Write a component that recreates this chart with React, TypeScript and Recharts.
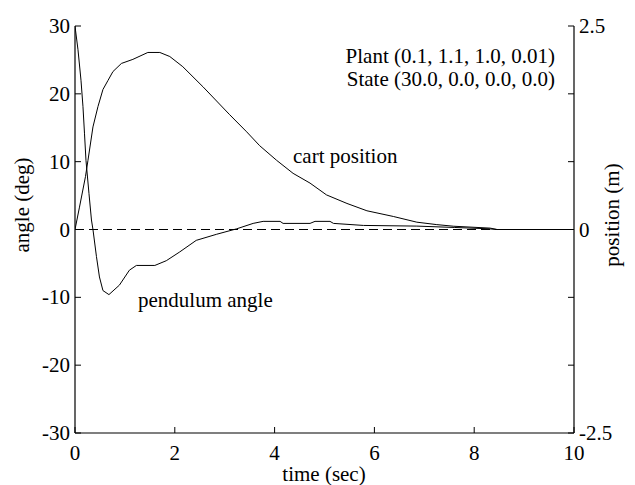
import React from "react";
import {
  LineChart,
  Line,
  XAxis,
  YAxis,
  ReferenceLine,
} from "recharts";

const FONT = "Liberation Serif, DejaVu Serif, serif";

// time samples (sec) and angles (deg) for the pendulum
const pendTime = [
  0, 0.01, 0.06, 0.12, 0.16, 0.19, 0.22, 0.28, 0.33, 0.36, 0.43, 0.49, 0.56,
  0.68, 0.89, 1.09, 1.23, 1.6, 1.83, 2.1, 2.43, 2.84, 3.24, 3.57, 3.77, 4.11,
  4.17, 4.71, 4.81, 5.11, 5.18, 5.78, 6.85, 7.6, 8.3, 8.45, 10,
];
const pendAngle = [
  30, 29.4, 26.5, 22.0, 18.1, 14.2, 10.2, 5.3, 1.4, 0, -4.0, -7.0, -9.0, -9.6,
  -8.2, -6.0, -5.3, -5.3, -4.6, -3.3, -1.6, -0.7, 0.1, 0.9, 1.2, 1.2, 0.9, 0.9,
  1.2, 1.2, 0.9, 0.6, 0.5, 0.3, 0.1, 0, 0,
];

// time samples (sec) and cart position (m)
const cartTime = [
  0, 0.09, 0.21, 0.26, 0.36, 0.46, 0.56, 0.66, 0.76, 0.93, 1.16, 1.46, 1.7, 1.9,
  2.16, 2.57, 3.1, 3.44, 3.7, 4.04, 4.37, 4.71, 5.04, 5.45, 5.85, 6.38, 6.85,
  7.25, 7.59, 8.32, 8.46, 10,
];
const cartPos = [
  0, 0.275, 0.65, 0.85, 1.26, 1.51, 1.72, 1.83, 1.94, 2.04, 2.09, 2.175, 2.175,
  2.125, 2.0, 1.75, 1.41, 1.2, 1.03, 0.85, 0.69, 0.57, 0.425, 0.32, 0.23, 0.16,
  0.09, 0.06, 0.04, 0.017, 0, 0,
];

const xTicks = [0, 2, 4, 6, 8, 10];
const angleTicks = [-30, -20, -10, 0, 10, 20, 30];
const posTicks = [-2.5, -5 / 3, -5 / 6, 0, 5 / 6, 5 / 3, 2.5];
const posLabels = [-2.5, 0, 2.5];

const pendData = pendTime.map((t, i) => ({ t, angle: pendAngle[i] }));
const cartData = cartTime.map((t, i) => ({ t, pos: cartPos[i] }));

// shared text attributes
const txt = { fontFamily: FONT, fontSize: 21, fill: "#000" };

function LeftTick({ x, y, payload }: any) {
  return (
    <g>
      <line x1={x} x2={x + 6} y1={y} y2={y} stroke="#000" />
      <text x={x - 5} y={y} textAnchor="end" dominantBaseline="central" {...txt}>
        {payload.value}
      </text>
    </g>
  );
}

function RightTick({ x, y, payload }: any) {
  const show = posLabels.some((v) => Math.abs(v - payload.value) < 1e-6);
  return (
    <g>
      <line x1={x - 6} x2={x} y1={y} y2={y} stroke="#000" />
      {show && (
        <text x={x + 5} y={y} textAnchor="start" dominantBaseline="central" {...txt}>
          {String(payload.value)}
        </text>
      )}
    </g>
  );
}

function BottomTick({ x, y, payload }: any) {
  return (
    <g>
      <line x1={x} x2={x} y1={y} y2={y - 6} stroke="#000" />
      <text x={x} y={y + 20} textAnchor="middle" dominantBaseline="central" {...txt}>
        {payload.value}
      </text>
    </g>
  );
}

function TopTick({ x, y }: any) {
  return <line x1={x} x2={x} y1={y} y2={y + 6} stroke="#000" />;
}

export default function App() {
  return (
    <div style={{ position: "absolute", left: 0, top: 0, width: 635, height: 485, background: "#fff" }}>
      <LineChart width={635} height={485} margin={{ top: 26, right: 0, bottom: 0, left: 0 }}>
        <XAxis
          type="number"
          dataKey="t"
          domain={[0, 10]}
          ticks={xTicks}
          interval={0}
          height={52}
          tickSize={0}
          tickMargin={0}
          tickLine={false}
          tick={<BottomTick />}
          axisLine={{ stroke: "#000", strokeWidth: 1.2 }}
          allowDataOverflow
        />
        <XAxis
          xAxisId="top"
          orientation="top"
          type="number"
          domain={[0, 10]}
          ticks={xTicks}
          interval={0}
          height={0}
          tickSize={0}
          tickMargin={0}
          tickLine={false}
          tick={<TopTick />}
          axisLine={{ stroke: "#000", strokeWidth: 1.2 }}
          allowDataOverflow
        />
        <YAxis
          yAxisId="left"
          type="number"
          domain={[-30, 30]}
          ticks={angleTicks}
          interval={0}
          width={75}
          tickSize={0}
          tickMargin={0}
          tickLine={false}
          tick={<LeftTick />}
          axisLine={{ stroke: "#000", strokeWidth: 1.2 }}
          allowDataOverflow
        />
        <YAxis
          yAxisId="right"
          orientation="right"
          type="number"
          domain={[-2.5, 2.5]}
          ticks={posTicks}
          interval={0}
          width={61}
          tickSize={0}
          tickMargin={0}
          tickLine={false}
          tick={<RightTick />}
          axisLine={{ stroke: "#000", strokeWidth: 1.2 }}
          allowDataOverflow
        />
        <ReferenceLine yAxisId="left" y={0} stroke="#000" strokeDasharray="9 5" />
        <Line
          yAxisId="left"
          data={pendData}
          dataKey="angle"
          type="linear"
          stroke="#000"
          strokeWidth={1}
          dot={false}
          isAnimationActive={false}
        />
        <Line
          yAxisId="right"
          data={cartData}
          dataKey="pos"
          type="linear"
          stroke="#000"
          strokeWidth={1}
          dot={false}
          isAnimationActive={false}
        />
      </LineChart>
      <svg
        width={635}
        height={485}
        style={{ position: "absolute", left: 0, top: 0, pointerEvents: "none" }}
      >
        <text x={555} y={56} textAnchor="end" dominantBaseline="central" {...txt}>
          Plant (0.1, 1.1, 1.0, 0.01)
        </text>
        <text x={555} y={79} textAnchor="end" dominantBaseline="central" {...txt}>
          State (30.0, 0.0, 0.0, 0.0)
        </text>
        <text x={293} y={156} dominantBaseline="central" {...txt}>
          cart position
        </text>
        <text x={138} y={300} dominantBaseline="central" {...txt}>
          pendulum angle
        </text>
        <text x={324} y={474} textAnchor="middle" dominantBaseline="central" {...txt}>
          time (sec)
        </text>
        <text
          x={22}
          y={205}
          textAnchor="middle"
          dominantBaseline="central"
          transform="rotate(-90 22 205)"
          {...txt}
        >
          angle (deg)
        </text>
        <text
          x={612}
          y={215}
          textAnchor="middle"
          dominantBaseline="central"
          transform="rotate(-90 612 215)"
          {...txt}
        >
          position (m)
        </text>
      </svg>
    </div>
  );
}
